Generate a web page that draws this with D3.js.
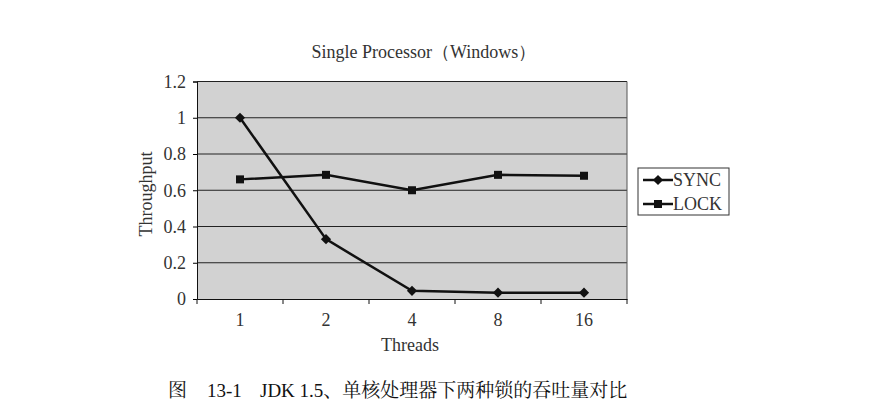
<!DOCTYPE html>
<html><head><meta charset="utf-8">
<script src="https://cdn.jsdelivr.net/npm/d3@7"></script>
<style>body{margin:0;background:#fff;} svg{display:block;}</style>
</head><body>
<svg id="c" width="874" height="417"></svg>
<script>
const categories = ["1","2","4","8","16"];
const syncValues = [1.0, 0.33, 0.045, 0.035, 0.035];
const lockValues = [0.66, 0.685, 0.60, 0.685, 0.68];
const yTicks = [0, 0.2, 0.4, 0.6, 0.8, 1, 1.2];
const seriesNames = ["SYNC", "LOCK"];

const svg = d3.select("#c");
const font = "'Liberation Serif','Times New Roman',serif";
const L = 197, R = 627, T = 81.5, B = 299;
const x = d3.scaleBand().domain(categories).range([L, R]);
const y = d3.scaleLinear().domain([0, 1.2]).range([B, T]);

svg.append("rect").attr("x", L).attr("y", T).attr("width", R - L).attr("height", B - T).attr("fill", "#d2d2d2");
svg.append("g").selectAll("line").data(yTicks.slice(1)).join("line")
  .attr("x1", L).attr("x2", R).attr("y1", d => y(d)).attr("y2", d => y(d))
  .attr("stroke", "#222").attr("stroke-width", 1);
svg.append("line").attr("x1", R).attr("x2", R).attr("y1", T).attr("y2", B).attr("stroke", "#555");

const ya = svg.append("g").attr("transform", `translate(${L},0)`)
  .call(d3.axisLeft(y).tickValues(yTicks).tickSize(4).tickPadding(7).tickFormat(d => d3.format("")(d)));
ya.attr("font-size", null).attr("font-family", null);
ya.select(".domain").attr("stroke", "#111");
ya.selectAll("text").style("font-family", font).style("font-size", "18px").attr("fill", "#333");
const xa = svg.append("g").attr("transform", `translate(0,${B})`)
  .call(d3.axisBottom(x).tickSize(0).tickPadding(14));
xa.attr("font-size", null).attr("font-family", null);
xa.select(".domain").attr("stroke", "#111");
xa.selectAll("text").style("font-family", font).style("font-size", "18px").attr("fill", "#333");
const bounds = [L, ...categories.slice(1).map(c => x(c)), R];
svg.append("g").selectAll("line").data(bounds).join("line")
  .attr("x1", d => d).attr("x2", d => d).attr("y1", B).attr("y2", B + 5).attr("stroke", "#111");

const line = d3.line().x((d, i) => x(categories[i]) + x.bandwidth() / 2).y(d => y(d));
svg.append("path").datum(lockValues).attr("d", line).attr("fill", "none").attr("stroke", "#111").attr("stroke-width", 2.5);
svg.append("path").datum(syncValues).attr("d", line).attr("fill", "none").attr("stroke", "#111").attr("stroke-width", 2.5);
svg.append("g").selectAll("rect").data(lockValues).join("rect")
  .attr("x", (d, i) => x(categories[i]) + x.bandwidth() / 2 - 4).attr("y", d => y(d) - 4)
  .attr("width", 8).attr("height", 8).attr("fill", "#111");
const diamond = d3.symbol().type(d3.symbolSquare).size(52);
svg.append("g").selectAll("path").data(syncValues).join("path")
  .attr("transform", (d, i) => `translate(${x(categories[i]) + x.bandwidth() / 2},${y(d)}) rotate(45)`)
  .attr("d", diamond).attr("fill", "#111");

svg.append("text").attr("x", 424).attr("y", 58).attr("text-anchor", "middle")
  .style("font-family", font).style("font-size", "18px").attr("fill", "#333").text("Single Processor（Windows）");
svg.append("text").attr("transform", "translate(152,194) rotate(-90)").attr("text-anchor", "middle")
  .style("font-family", font).style("font-size", "18px").attr("fill", "#333").text("Throughput");
svg.append("text").attr("x", 410).attr("y", 351).attr("text-anchor", "middle")
  .style("font-family", font).style("font-size", "18px").attr("fill", "#333").text("Threads");

const lg = svg.append("g");
lg.append("rect").attr("x", 638).attr("y", 168).attr("width", 91).attr("height", 47)
  .attr("fill", "#fff").attr("stroke", "#333");
seriesNames.forEach((n, i) => {
  const yy = 180 + i * 24;
  lg.append("line").attr("x1", 643).attr("x2", 673).attr("y1", yy).attr("y2", yy).attr("stroke", "#111").attr("stroke-width", 2.5);
  if (i === 0) lg.append("path").attr("transform", `translate(658,${yy}) rotate(45)`).attr("d", diamond).attr("fill", "#111");
  else lg.append("rect").attr("x", 654).attr("y", yy - 4).attr("width", 8).attr("height", 8).attr("fill", "#111");
  lg.append("text").attr("x", 673).attr("y", yy + 6).style("font-family", font).style("font-size", "18px")
    .attr("fill", "#333").text(n);
});

const capFont = "'Liberation Serif','Noto Serif CJK SC','Noto Sans CJK SC',serif";
const cap = svg.append("g").style("font-family", capFont).style("font-size", "19px").attr("fill", "#111");
cap.append("text").attr("x", 168).attr("y", 397).text("图");
cap.append("text").attr("x", 207).attr("y", 397).text("13-1");
cap.append("text").attr("x", 260).attr("y", 397).text("JDK 1.5、单核处理器下两种锁的吞吐量对比");
</script>
</body></html>
